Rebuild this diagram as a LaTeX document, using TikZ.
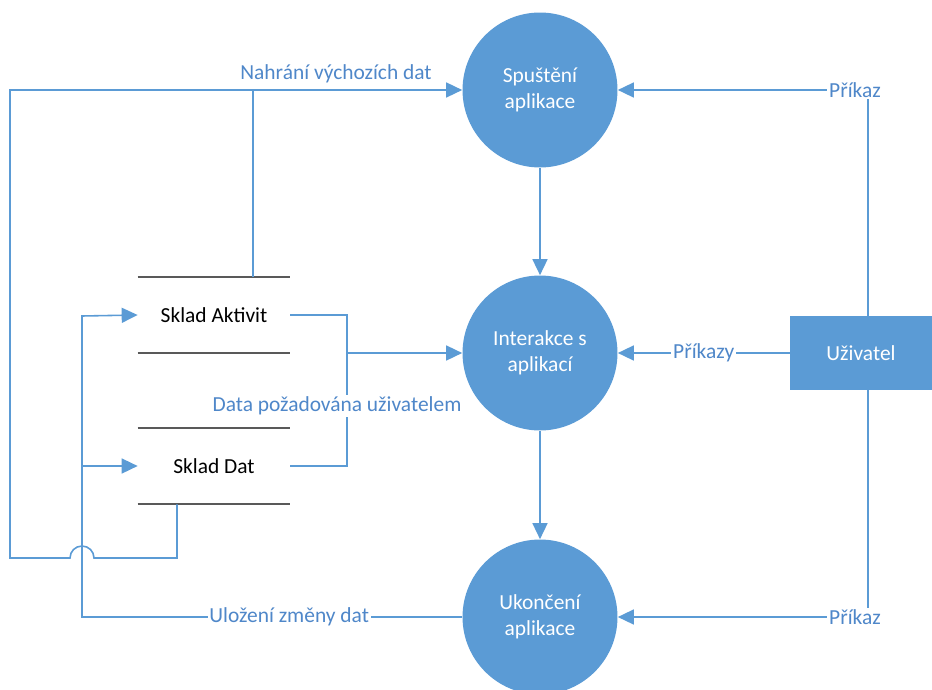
\documentclass[tikz,border=0pt]{standalone}
\usepackage{fontspec}
\setmainfont{Carlito}
\usetikzlibrary{arrows.meta}
\definecolor{flowblue}{HTML}{5B9BD5}
\definecolor{lblblue}{HTML}{4F87C9}
\definecolor{storegray}{HTML}{595959}

\begin{document}
\begin{tikzpicture}[x=0.02cm,y=-0.02cm,
		proc/.style={circle,fill=flowblue,text=white,minimum size=3.1cm,inner sep=0pt,align=center,font=\fontsize{12.2}{14.5}\selectfont},
		ent/.style={rectangle,fill=flowblue,text=white,minimum width=2.84cm,minimum height=1.48cm,font=\fontsize{12.2}{14.5}\selectfont},
		store/.style={rectangle,minimum width=3.04cm,minimum height=1.52cm,inner sep=0pt,font=\fontsize{12.2}{14.5}\selectfont},
		storeline/.style={draw=storegray,line width=1.3pt},
		line/.style={draw=flowblue,line width=0.9pt},
		flow/.style={line,-{Triangle[length=0.32cm,width=0.3cm]}},
		lbl/.style={fill=white,text=lblblue,inner sep=1pt,font=\fontsize{12.2}{14.5}\selectfont}]
	\useasboundingbox (0,0) rectangle (932,689);
	% processes
	\node[proc] (start) at (540,90) {Spuštění\\aplikace};
	\node[proc] (inter) at (540,353) {Interakce s\\aplikací};
	\node[proc] (end) at (540,617) {Ukončení\\aplikace};
	\node[ent] (usr) at (861,353) {Uživatel};
	% data stores
	\node[store] (akt) at (214,315) {Sklad Aktivit};
	\node[store] (dat) at (214,466) {Sklad Dat};
	\draw[storeline] (akt.north west) -- (akt.north east);
	\draw[storeline] (akt.south west) -- (akt.south east);
	\draw[storeline] (dat.north west) -- (dat.north east);
	\draw[storeline] (dat.south west) -- (dat.south east);
	% helper points
	\coordinate (leftTop) at (10,90);
	\coordinate (tapA) at (253,90);
	\coordinate (hopR) at (94,558);
	\coordinate (joinD) at (347,353);
	\coordinate (saveA) at (82,316);
	\coordinate (saveD) at (82,466);
	\coordinate (cmdTop) at (868,90);
	\coordinate (cmdBot) at (868,617);
	% main flow
	\draw[flow] (start) -- (inter);
	\draw[flow] (inter) -- (end);
	% loading default data
	\draw[flow] (dat.south -| 177,0) |- (hopR) arc (0:180:0.24cm) -| (leftTop) -- (start.west);
	\draw[line] (akt.north -| tapA) -- (tapA);
	\node[lbl,fill=none] at (336,74) {Nahrání výchozích dat};
	% requested data
	\draw[line] (akt.east) -| (joinD);
	\draw[line] (dat.east) -| (joinD);
	\draw[flow] (joinD) -- (inter.west);
	\node[lbl] at (337,406) {Data požadována uživatelem};
	% saving changes
	\draw[flow] (end.west) -- node[lbl,pos=0.455] {Uložení změny dat} (end.west -| saveA) -- (saveA) -- (akt.west);
	\draw[flow] (saveD) -- (dat.west);
	% user commands
	\draw[flow] (usr.north -| cmdTop) -- (cmdTop) -- (start.east);
	\draw[flow] (usr.south -| cmdBot) -- (cmdBot) -- (end.east);
	\node[lbl] at (855,90) {Příkaz};
	\node[lbl] at (855,617) {Příkaz};
	\draw[flow] (usr.west) -- node[lbl] {Příkazy} (inter.east);
\end{tikzpicture}
\end{document}
